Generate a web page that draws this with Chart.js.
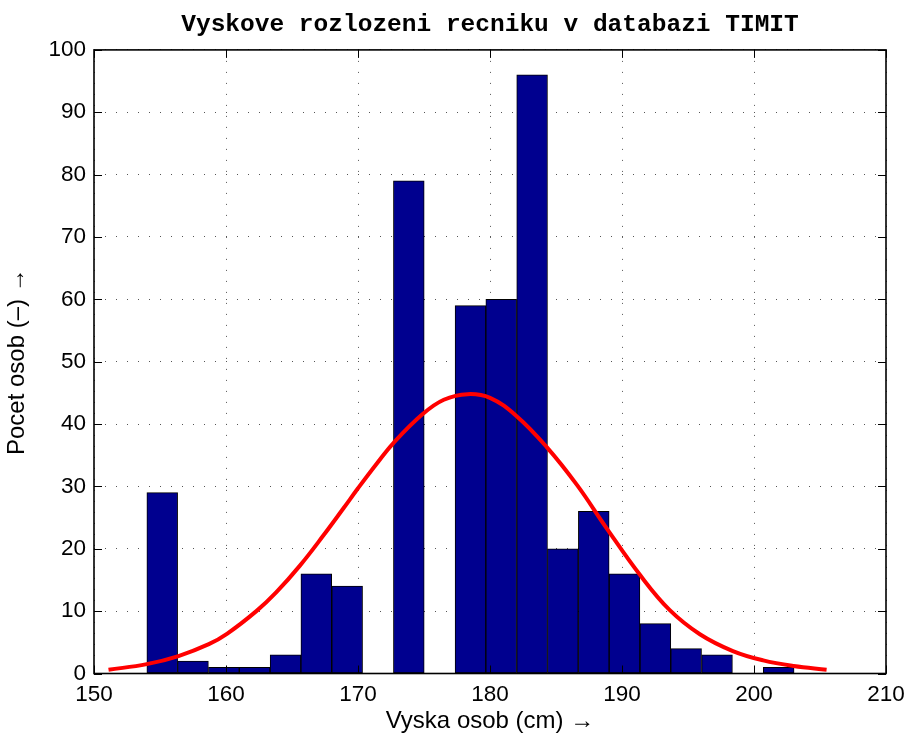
<!DOCTYPE html>
<html>
<head>
<meta charset="utf-8">
<script src="https://cdn.jsdelivr.net/npm/chart.js@4/dist/chart.umd.min.js"></script>
<style>
  html, body { margin: 0; padding: 0; background: #fff; }
  #wrap { width: 909px; height: 736px; position: relative; }
</style>
</head>
<body>
<div id="wrap"><canvas id="heightChart"></canvas></div>
<script>
// histogram bins (cm) and speaker counts
const binCenters = [155.17, 157.50, 159.84, 162.17, 164.51, 166.84, 169.18, 171.51, 173.85, 176.18,
                    178.52, 180.85, 183.19, 185.52, 187.86, 190.19, 192.53, 194.86, 197.20, 199.53, 201.87];
const binCounts = [29, 2, 1, 1, 3, 16, 14, 0, 79, 0, 59, 60, 96, 20, 26, 16, 8, 4, 3, 0, 1];

// fitted normal curve, sampled
const fitX = [151.1, 154.0, 156.4, 158.7, 160.1, 162.3, 163.8, 165.6, 167.4, 168.9, 170.0, 171.4, 172.7, 174.9,
              176.5, 178.3, 180.0, 182.0, 184.3, 186.6, 188.8, 191.4, 193.6, 195.9, 198.4, 200.7, 203.0, 205.5];
const fitY = [0.6, 1.5, 2.8, 4.7, 6.4, 10.0, 13.0, 17.3, 22.2, 26.5, 29.7, 33.6, 37.0, 41.6,
              43.9, 44.8, 44.2, 41.3, 36.3, 30.2, 23.4, 15.7, 10.2, 6.3, 3.6, 2.1, 1.2, 0.6];

const xTicks = [150, 160, 170, 180, 190, 200, 210];
const yTicks = [0, 10, 20, 30, 40, 50, 60, 70, 80, 90, 100];

const tickFont = { family: "'Liberation Sans', Arial, sans-serif", size: 22.5 };
const labelFont = { family: "'Liberation Sans', Arial, sans-serif", size: 24 };

// box around the axes with inward tick marks on all four sides
const boxTicks = {
    id: 'boxTicks',
    afterDatasetsDraw(chart) {
        const { ctx, chartArea: a, scales } = chart;
        const len = 8;
        ctx.save();
        ctx.strokeStyle = '#000';
        ctx.lineWidth = 1;
        ctx.beginPath();
        xTicks.forEach(v => {
            const px = Math.round(scales.x.getPixelForValue(v)) + 0.5;
            ctx.moveTo(px, a.bottom); ctx.lineTo(px, a.bottom - len);
            ctx.moveTo(px, a.top); ctx.lineTo(px, a.top + len);
        });
        yTicks.forEach(v => {
            const py = Math.round(scales.y.getPixelForValue(v)) + 0.5;
            ctx.moveTo(a.left, py); ctx.lineTo(a.left + len, py);
            ctx.moveTo(a.right, py); ctx.lineTo(a.right - len, py);
        });
        ctx.stroke();
        ctx.lineWidth = 1.6;
        ctx.strokeRect(a.left, a.top, a.right - a.left, a.bottom - a.top);
        ctx.restore();
    }
};

new Chart(document.getElementById('heightChart'), {
    type: 'bar',
    data: {
        datasets: [
            {
                type: 'line',
                data: fitX.map((x, i) => ({ x, y: fitY[i] })),
                borderColor: '#ff0000',
                borderWidth: 4,
                pointRadius: 0,
                tension: 0.4,
                order: 0
            },
            {
                type: 'bar',
                data: binCenters.map((x, i) => ({ x, y: binCounts[i] })),
                backgroundColor: '#00008f',
                borderColor: '#000',
                borderWidth: 1,
                borderSkipped: false,
                barPercentage: 1,
                categoryPercentage: 1,
                order: 1
            }
        ]
    },
    options: {
        responsive: true,
        maintainAspectRatio: false,
        animation: false,
        layout: { padding: { left: 0, right: 23, top: 0, bottom: 0 } },
        plugins: {
            legend: { display: false },
            tooltip: { enabled: false },
            title: {
                display: true,
                fullSize: false,
                text: 'Vyskove rozlozeni recniku v databazi TIMIT',
                color: '#000',
                font: { family: "'Liberation Mono', 'Courier New', monospace", size: 24.5, weight: 'bold' },
                padding: { top: 10, bottom: 10.5 }
            }
        },
        scales: {
            x: {
                type: 'linear',
                min: 150,
                max: 210,
                offset: false,
                grid: { offset: false, color: '#555', lineWidth: 1, drawTicks: false },
                border: { display: false, dash: [1, 10] },
                afterBuildTicks: s => { s.ticks = xTicks.map(v => ({ value: v })); },
                ticks: { color: '#000', font: tickFont, padding: 8, maxRotation: 0 },
                title: {
                    display: true,
                    text: 'Vyska osob (cm) \u2192',
                    color: '#000',
                    font: labelFont,
                    padding: { top: 0, bottom: 0 }
                },
                afterFit: s => {
                    s.height = 62.5;
                    s.paddingLeft = 0;
                    s.paddingRight = 0;
                }
            },
            y: {
                min: 0,
                max: 100,
                grid: { color: '#555', lineWidth: 1, drawTicks: false },
                border: { display: false, dash: [1, 10] },
                afterBuildTicks: s => { s.ticks = yTicks.map(v => ({ value: v })); },
                ticks: { color: '#000', font: tickFont, padding: 8 },
                title: {
                    display: true,
                    text: 'Pocet osob (\u2013) \u2192',
                    color: '#000',
                    font: labelFont,
                    padding: { top: 2.5, bottom: 0 }
                },
                afterFit: s => { s.width = 94; }
            }
        }
    },
    plugins: [boxTicks]
});
</script>
</body>
</html>
